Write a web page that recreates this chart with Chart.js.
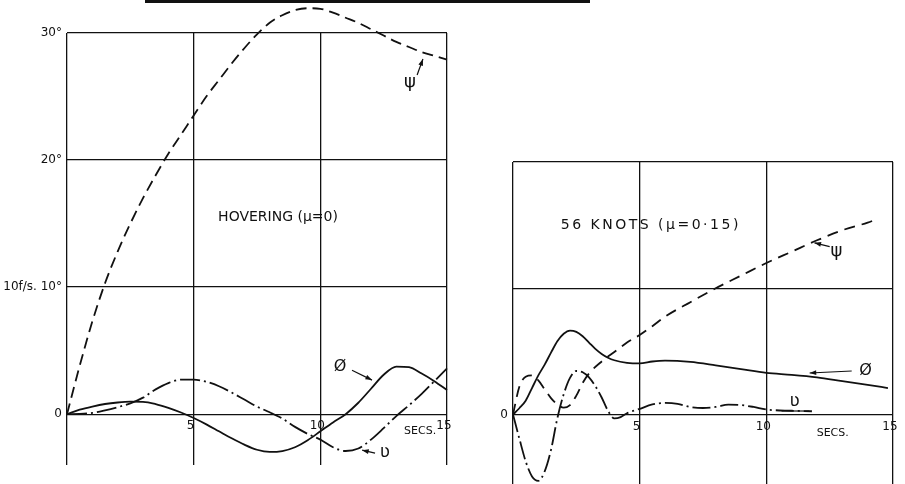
<!DOCTYPE html>
<html>
<head>
<meta charset="utf-8">
<title>Hovering and 56 knots response</title>
<script src="https://cdn.jsdelivr.net/npm/chart.js@4"></script>
<style>
  html, body { margin: 0; padding: 0; background: #fff; }
  body { width: 905px; height: 484px; position: relative; overflow: hidden; }
  .panel { position: absolute; top: 0; height: 484px; }
  #hoverBox { left: 0; width: 460px; }
  #knotsBox { left: 460px; width: 445px; }
  .rule { position: absolute; top: 0; left: 145px; width: 445px; height: 3px; background: #111; }
</style>
</head>
<body>
<div class="rule"></div>
<div class="panel" id="hoverBox"><canvas id="hoverChart"></canvas></div>
<div class="panel" id="knotsBox"><canvas id="knotsChart"></canvas></div>
<script>
// Hovering (mu = 0) - time in secs, angles in degrees
const hoverTime = [0, 0.5, 1, 1.5, 2, 2.5, 3, 3.5, 4, 4.5, 5, 5.5, 6, 6.5, 7, 7.5, 8, 8.5, 9, 9.5, 10,
                   10.5, 11, 11.5, 12, 12.5, 13, 13.5, 14, 14.5, 15];
const hoverPsi = [0, 3.8, 7.3, 10.3, 12.8, 15.0, 17.0, 18.8, 20.5, 22.0, 23.5, 25.0, 26.3, 27.6, 28.8, 29.9,
                  30.8, 31.4, 31.8, 31.95, 31.9, 31.6, 31.2, 30.8, 30.3, 29.8, 29.3, 28.9, 28.5, 28.2, 27.9];
const hoverPhi = [0, 0.35, 0.6, 0.8, 0.92, 0.98, 0.97, 0.8, 0.5, 0.13, -0.3, -0.8, -1.35, -1.9, -2.4, -2.8,
                  -2.97, -2.9, -2.6, -2.05, -1.35, -0.65, 0, 0.9, 2.0, 3.1, 3.75, 3.7, 3.2, 2.6, 1.9];
const hoverV = [0, 0.02, 0.1, 0.3, 0.55, 0.85, 1.3, 1.95, 2.45, 2.72, 2.72, 2.55, 2.2, 1.7, 1.15, 0.6,
                0.15, -0.35, -1.0, -1.55, -2.0, -2.6, -2.9, -2.7, -2.0, -1.1, -0.15, 0.7, 1.6, 2.6, 3.6];

// 56 knots (mu = 0.15)
const knotsPsiTime = [0, 0.25, 0.5, 0.75, 1, 1.25, 1.5, 1.75, 2, 2.25, 2.5, 2.75, 3, 3.5, 4, 4.5, 5, 5.5,
                      6, 7, 8, 9, 10, 11, 12, 13, 14, 14.4];
const knotsPsi = [0, 2.2, 3.0, 3.1, 2.7, 2.0, 1.3, 0.8, 0.55, 0.75, 1.5, 2.5, 3.25, 4.2, 4.95, 5.7, 6.3, 7.0,
                  7.75, 8.9, 10.0, 11.0, 12.0, 12.9, 13.8, 14.6, 15.2, 15.5];
const knotsPhiTime = [0, 0.25, 0.5, 0.75, 1, 1.25, 1.5, 1.75, 2, 2.25, 2.5, 2.75, 3, 3.25, 3.5, 3.75, 4, 4.5,
                      5, 5.5, 6, 7, 8, 9, 10, 11, 12, 13, 14, 14.8];
const knotsPhi = [0, 0.5, 1.1, 2.1, 3.1, 3.95, 4.9, 5.8, 6.4, 6.65, 6.55, 6.2, 5.7, 5.2, 4.8, 4.5, 4.3, 4.1,
                  4.05, 4.2, 4.27, 4.17, 3.9, 3.6, 3.3, 3.15, 2.95, 2.65, 2.35, 2.1];
const knotsVTime = [0, 0.25, 0.5, 0.75, 1, 1.25, 1.5, 1.75, 2, 2.25, 2.5, 2.75, 3, 3.25, 3.5, 3.75, 4, 4.25,
                    4.5, 5, 5.5, 6, 6.5, 7, 7.5, 8, 8.5, 9, 9.5, 10, 11, 11.8];
const knotsV = [0, -1.9, -3.7, -4.9, -5.25, -4.5, -2.8, -0.3, 1.6, 2.9, 3.45, 3.35, 2.95, 2.25, 1.35, 0.3,
                -0.3, -0.2, 0.1, 0.45, 0.8, 0.92, 0.85, 0.6, 0.52, 0.6, 0.78, 0.75, 0.6, 0.4, 0.3, 0.26];

// tick labels
const timeTicks = [0, 5, 10, 15];
const timeLabels = ['', '5', '10', '15'];
const hoverAngleTicks = [0, 10, 20, 30];
const hoverAngleLabels = ['0', '10f/s. 10°', '20°', '30°'];
const knotsAngleTicks = [0, 10, 20];
const knotsAngleLabels = ['0', '', ''];

const INK = '#111';
const FONT = '"DejaVu Sans", sans-serif';

function pts(xs, ys) {
    return xs.map((x, i) => ({ x: x, y: ys[i] }));
}

function curve(xs, ys, dash) {
    return {
        data: pts(xs, ys),
        borderColor: INK,
        borderWidth: 1.8,
        borderDash: dash,
        clip: false,
        pointRadius: 0,
        cubicInterpolationMode: 'monotone',
        capBezierPoints: false
    };
}

// draws tick labels, panel notes and little arrows in data coordinates
function makeInk(cfg) {
    return {
        id: 'ink',
        afterDatasetsDraw(chart) {
            const ctx = chart.ctx;
            const x = chart.scales.x, y = chart.scales.y;
            const area = chart.chartArea;
            ctx.save();
            ctx.fillStyle = INK;
            ctx.strokeStyle = INK;
            // y tick labels
            ctx.font = '12px ' + FONT;
            ctx.textAlign = 'right';
            ctx.textBaseline = 'middle';
            cfg.yTicks.forEach((v, i) => {
                ctx.fillText(cfg.yLabels[i], area.left - 5, y.getPixelForValue(v));
            });
            // x tick labels sit just under the zero line
            ctx.textAlign = 'center';
            ctx.textBaseline = 'top';
            timeTicks.forEach((v, i) => {
                ctx.fillText(timeLabels[i], x.getPixelForValue(v) - 3, y.getPixelForValue(0) + 6);
            });
            // notes
            cfg.notes.forEach(n => {
                ctx.font = n.size + 'px ' + FONT;
                ctx.letterSpacing = (n.spacing || 0) + 'px';
                ctx.textAlign = 'center';
                ctx.textBaseline = 'middle';
                ctx.fillText(n.text, x.getPixelForValue(n.x), y.getPixelForValue(n.y));
            });
            ctx.letterSpacing = '0px';
            // arrows
            ctx.lineWidth = 1.2;
            cfg.arrows.forEach(a => {
                const x0 = x.getPixelForValue(a.from[0]), y0 = y.getPixelForValue(a.from[1]);
                const x1 = x.getPixelForValue(a.to[0]), y1 = y.getPixelForValue(a.to[1]);
                ctx.beginPath();
                ctx.moveTo(x0, y0);
                ctx.lineTo(x1, y1);
                ctx.stroke();
                if (a.head) {
                    const ang = Math.atan2(y1 - y0, x1 - x0);
                    ctx.beginPath();
                    ctx.moveTo(x1, y1);
                    ctx.lineTo(x1 - 7 * Math.cos(ang - 0.35), y1 - 7 * Math.sin(ang - 0.35));
                    ctx.lineTo(x1 - 7 * Math.cos(ang + 0.35), y1 - 7 * Math.sin(ang + 0.35));
                    ctx.closePath();
                    ctx.fill();
                }
            });
            ctx.restore();
        }
    };
}

function panelOptions(yMin, yMax, yTicks, pad) {
    return {
        responsive: true,
        maintainAspectRatio: false,
        animation: false,
        layout: { padding: pad },
        plugins: { legend: { display: false }, tooltip: { enabled: false } },
        scales: {
            x: {
                type: 'linear', min: 0, max: 15,
                border: { display: false },
                grid: { color: INK, lineWidth: 1.3, drawTicks: false },
                ticks: { display: false },
                afterBuildTicks: s => { s.ticks = timeTicks.map(v => ({ value: v })); },
                afterFit: s => { s.height = 0; }
            },
            y: {
                type: 'linear', min: yMin, max: yMax,
                border: { display: false },
                grid: { color: INK, lineWidth: 1.3, drawTicks: false },
                ticks: { display: false },
                afterBuildTicks: s => { s.ticks = yTicks.map(v => ({ value: v })); },
                afterFit: s => { s.width = 0; }
            }
        }
    };
}

new Chart(document.getElementById('hoverChart'), {
    type: 'line',
    data: {
        datasets: [
            curve(hoverTime, hoverPsi, [11, 6]),
            curve(hoverTime, hoverPhi, []),
            curve(hoverTime, hoverV, [20, 4, 2, 4])
        ]
    },
    options: panelOptions(-4, 30, hoverAngleTicks, { left: 67, right: 13, top: 33, bottom: 19 }),
    plugins: [makeInk({
        yTicks: hoverAngleTicks,
        yLabels: hoverAngleLabels,
        notes: [
            { text: 'HOVERING (μ=0)', x: 8.33, y: 15.5, size: 14 },
            { text: 'ψ', x: 13.54, y: 26.1, size: 18 },
            { text: 'Ø', x: 10.78, y: 3.7, size: 16 },
            { text: 'ʋ', x: 12.55, y: -3.0, size: 17 },
            { text: 'SECS.', x: 13.94, y: -1.3, size: 11 }
        ],
        arrows: [
            { from: [13.82, 26.7], to: [14.05, 27.95], head: true },
            { from: [11.25, 3.46], to: [12.04, 2.68], head: true },
            { from: [12.16, -3.07], to: [11.65, -2.83], head: true }
        ]
    })]
});

new Chart(document.getElementById('knotsChart'), {
    type: 'line',
    data: {
        datasets: [
            curve(knotsPsiTime, knotsPsi, [11, 7]),
            curve(knotsPhiTime, knotsPhi, []),
            curve(knotsVTime, knotsV, [18, 4, 2, 4])
        ]
    },
    options: panelOptions(-5.5, 20, knotsAngleTicks, { left: 53, right: 12, top: 162, bottom: 0 }),
    plugins: [makeInk({
        yTicks: knotsAngleTicks,
        yLabels: knotsAngleLabels,
        notes: [
            { text: '56 KNOTS (μ=0·15)', x: 5.44, y: 15.0, size: 14, spacing: 2.5 },
            { text: 'ψ', x: 12.77, y: 12.95, size: 18 },
            { text: 'Ø', x: 13.92, y: 3.45, size: 16 },
            { text: 'ʋ', x: 11.12, y: 1.0, size: 17 },
            { text: 'SECS.', x: 12.62, y: -1.45, size: 11 }
        ],
        arrows: [
            { from: [12.5, 13.3], to: [11.9, 13.6], head: true },
            { from: [13.37, 3.45], to: [11.71, 3.29], head: true },
            { from: [10.6, 0.28], to: [11.7, 0.28], head: false }
        ]
    })]
});
</script>
</body>
</html>
